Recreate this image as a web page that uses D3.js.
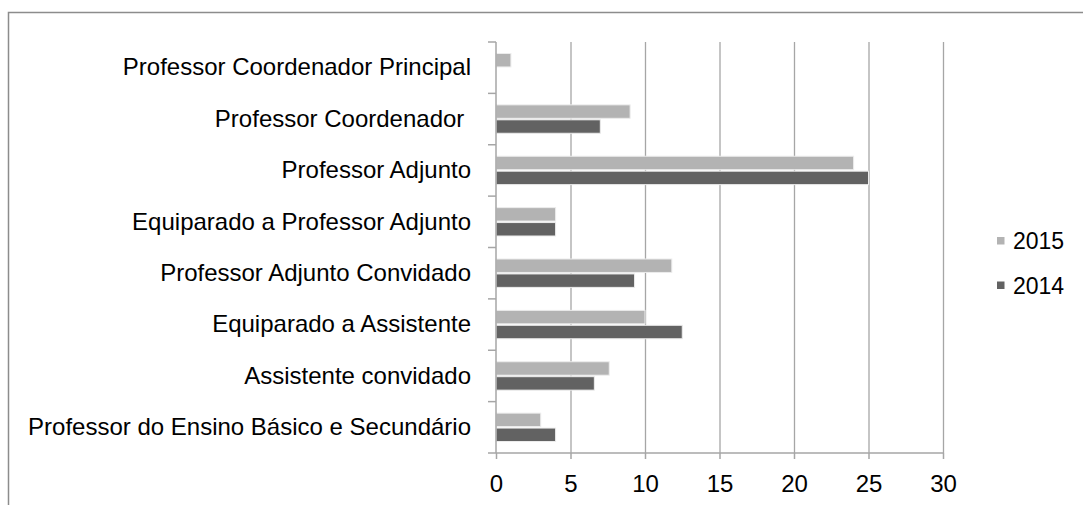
<!doctype html>
<html lang="en">
<head>
    <meta charset="utf-8">
    <script src="https://d3js.org/d3.v7.min.js"></script>
    <style>
        html, body {
            margin: 0;
            padding: 0;
            background: #fff;
        }
        svg text {
            font-family: "Liberation Sans", Arial, sans-serif;
            fill: #000;
        }
    </style>
</head>
<body>
<svg id="svg" width="1083" height="505"></svg>
<script>
    // data
    var categories = [
        "Professor Coordenador Principal",
        "Professor Coordenador ",
        "Professor Adjunto",
        "Equiparado a Professor Adjunto",
        "Professor Adjunto Convidado",
        "Equiparado a Assistente",
        "Assistente convidado",
        "Professor do Ensino Básico e Secundário"
    ];
    var series = ["2015", "2014"];
    var values2015 = [1, 9, 24, 4, 11.8, 10, 7.6, 3];
    var values2014 = [0, 7, 25, 4, 9.3, 12.5, 6.6, 4];
    var xTicks = [0, 5, 10, 15, 20, 25, 30];

    var colors = {"2015": "#b3b3b3", "2014": "#626262"};
    var fontSize = "24px";

    var svg = d3.select("#svg");

    // outer chart frame (runs off right/bottom edges)
    svg.append("rect")
        .attr("x", 8.5)
        .attr("y", 12.5)
        .attr("width", 1100)
        .attr("height", 520)
        .attr("fill", "none")
        .attr("stroke", "#8c8c8c")
        .attr("stroke-width", 1.5);

    // plot area (note: "top" is reserved on window, so use plot* names)
    var plotLeft = 496, plotRight = 943, plotTop = 42, plotBottom = 453;

    var x = d3.scaleLinear().domain([0, 30]).range([plotLeft, plotRight]);
    var y = d3.scaleBand().domain(categories).range([plotTop, plotBottom]).paddingInner(0).paddingOuter(0);
    var inner = d3.scaleBand().domain(series).range([11.5, y.bandwidth() - 11.5]).paddingInner(0.1);

    // vertical gridlines
    svg.append("g")
        .selectAll("line")
        .data(xTicks.slice(1))
        .enter().append("line")
        .attr("x1", function (d) { return x(d) + 0.5; })
        .attr("x2", function (d) { return x(d) + 0.5; })
        .attr("y1", plotTop)
        .attr("y2", plotBottom)
        .attr("stroke", "#a6a6a6")
        .attr("stroke-width", 1.3);

    // bars
    var rows = categories.map(function (c, i) {
        return {cat: c, v: {"2015": values2015[i], "2014": values2014[i]}};
    });

    var groups = svg.append("g")
        .selectAll("g")
        .data(rows)
        .enter().append("g")
        .attr("transform", function (d) { return "translate(0," + y(d.cat) + ")"; });

    groups.selectAll("rect")
        .data(function (d) {
            return series.map(function (s) { return {s: s, v: d.v[s]}; })
                .filter(function (e) { return e.v > 0; });
        })
        .enter().append("rect")
        .attr("x", x(0))
        .attr("y", function (d) { return inner(d.s); })
        .attr("width", function (d) { return x(d.v) - x(0); })
        .attr("height", inner.bandwidth())
        .attr("fill", function (d) { return colors[d.s]; })
        .attr("stroke", "#ececec")
        .attr("stroke-width", 1);

    // x axis
    var xAxis = d3.axisBottom(x).tickValues(xTicks).tickSize(6).tickPadding(21);
    var gx = svg.append("g")
        .attr("transform", "translate(0," + plotBottom + ")")
        .call(xAxis);
    gx.attr("font-size", null).attr("font-family", null);
    gx.select(".domain").attr("stroke", "#a6a6a6").attr("stroke-width", 1.5)
        .attr("d", "M" + (plotLeft - 8) + ",0H" + plotRight);
    gx.selectAll(".tick line").attr("stroke", "#a6a6a6").attr("stroke-width", 1.5);
    gx.selectAll(".tick text").attr("font-size", fontSize).attr("fill", "#000")
        .attr("dy", "0.5em");

    // y axis
    var yAxis = d3.axisLeft(y).tickSize(0).tickPadding(25);
    var gy = svg.append("g")
        .attr("transform", "translate(" + plotLeft + ",0)")
        .call(yAxis);
    gy.attr("font-size", null).attr("font-family", null);
    gy.select(".domain").attr("stroke", "#a6a6a6").attr("stroke-width", 1.5)
        .attr("d", "M0," + plotTop + "V" + plotBottom);
    gy.selectAll(".tick text").attr("font-size", fontSize).attr("fill", "#000")
        .style("white-space", "pre");

    // category boundary ticks
    svg.append("g")
        .selectAll("line")
        .data(categories)
        .enter().append("line")
        .attr("x1", plotLeft - 8)
        .attr("x2", plotLeft)
        .attr("y1", function (d) { return y(d); })
        .attr("y2", function (d) { return y(d); })
        .attr("stroke", "#a6a6a6")
        .attr("stroke-width", 1.5);

    // legend
    var legend = svg.append("g")
        .selectAll("g")
        .data(series)
        .enter().append("g")
        .attr("transform", function (d, i) { return "translate(997," + (237 + i * 44.5) + ")"; });
    legend.append("rect")
        .attr("width", 7.5)
        .attr("height", 7.5)
        .attr("fill", function (d) { return colors[d]; });
    legend.append("text")
        .attr("x", 16)
        .attr("y", 12)
        .attr("font-size", "23px")
        .text(function (d) { return d; });
</script>
</body>
</html>
